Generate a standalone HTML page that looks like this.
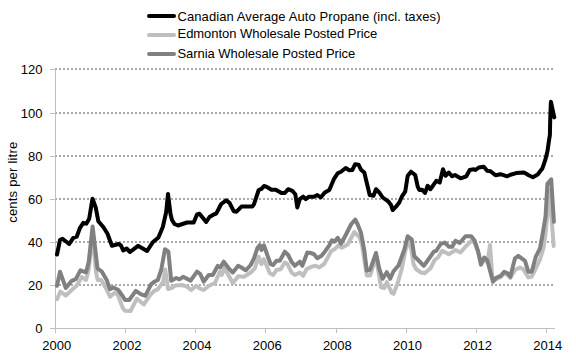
<!DOCTYPE html>
<html><head><meta charset="utf-8"><style>html,body{margin:0;padding:0;background:#fff;width:576px;height:361px;overflow:hidden}svg{display:block}</style></head><body>
<svg width="576" height="361" viewBox="0 0 576 361">
<rect width="576" height="361" fill="#fff"/>
<line x1="55" y1="69" x2="553" y2="69" stroke="#a9a9a9" stroke-width="2" stroke-dasharray="2 2" shape-rendering="crispEdges"/>
<line x1="55" y1="113" x2="553" y2="113" stroke="#a9a9a9" stroke-width="2" stroke-dasharray="2 2" shape-rendering="crispEdges"/>
<line x1="55" y1="156" x2="553" y2="156" stroke="#a9a9a9" stroke-width="2" stroke-dasharray="2 2" shape-rendering="crispEdges"/>
<line x1="55" y1="199" x2="553" y2="199" stroke="#a9a9a9" stroke-width="2" stroke-dasharray="2 2" shape-rendering="crispEdges"/>
<line x1="55" y1="242" x2="553" y2="242" stroke="#a9a9a9" stroke-width="2" stroke-dasharray="2 2" shape-rendering="crispEdges"/>
<line x1="55" y1="285" x2="553" y2="285" stroke="#a9a9a9" stroke-width="2" stroke-dasharray="2 2" shape-rendering="crispEdges"/>
<line x1="55.5" y1="69" x2="55.5" y2="333" stroke="#bfbfbf" stroke-width="1" shape-rendering="crispEdges"/>
<line x1="50" y1="328.5" x2="555" y2="328.5" stroke="#bfbfbf" stroke-width="1" shape-rendering="crispEdges"/>
<line x1="50" y1="69.5" x2="55" y2="69.5" stroke="#bfbfbf" stroke-width="1" shape-rendering="crispEdges"/>
<line x1="50" y1="113.5" x2="55" y2="113.5" stroke="#bfbfbf" stroke-width="1" shape-rendering="crispEdges"/>
<line x1="50" y1="156.5" x2="55" y2="156.5" stroke="#bfbfbf" stroke-width="1" shape-rendering="crispEdges"/>
<line x1="50" y1="199.5" x2="55" y2="199.5" stroke="#bfbfbf" stroke-width="1" shape-rendering="crispEdges"/>
<line x1="50" y1="242.5" x2="55" y2="242.5" stroke="#bfbfbf" stroke-width="1" shape-rendering="crispEdges"/>
<line x1="50" y1="285.5" x2="55" y2="285.5" stroke="#bfbfbf" stroke-width="1" shape-rendering="crispEdges"/>
<line x1="55.5" y1="328" x2="55.5" y2="333" stroke="#bfbfbf" stroke-width="1" shape-rendering="crispEdges"/>
<line x1="125.5" y1="328" x2="125.5" y2="333" stroke="#bfbfbf" stroke-width="1" shape-rendering="crispEdges"/>
<line x1="195.5" y1="328" x2="195.5" y2="333" stroke="#bfbfbf" stroke-width="1" shape-rendering="crispEdges"/>
<line x1="265.5" y1="328" x2="265.5" y2="333" stroke="#bfbfbf" stroke-width="1" shape-rendering="crispEdges"/>
<line x1="336.5" y1="328" x2="336.5" y2="333" stroke="#bfbfbf" stroke-width="1" shape-rendering="crispEdges"/>
<line x1="406.5" y1="328" x2="406.5" y2="333" stroke="#bfbfbf" stroke-width="1" shape-rendering="crispEdges"/>
<line x1="476.5" y1="328" x2="476.5" y2="333" stroke="#bfbfbf" stroke-width="1" shape-rendering="crispEdges"/>
<line x1="546.5" y1="328" x2="546.5" y2="333" stroke="#bfbfbf" stroke-width="1" shape-rendering="crispEdges"/>
<text x="42.5" y="333.0" text-anchor="end" font-family="Liberation Sans, sans-serif" font-size="13" fill="#000">0</text>
<text x="42.5" y="289.5" text-anchor="end" font-family="Liberation Sans, sans-serif" font-size="13" fill="#000">20</text>
<text x="42.5" y="246.5" text-anchor="end" font-family="Liberation Sans, sans-serif" font-size="13" fill="#000">40</text>
<text x="42.5" y="203.5" text-anchor="end" font-family="Liberation Sans, sans-serif" font-size="13" fill="#000">60</text>
<text x="42.5" y="160.5" text-anchor="end" font-family="Liberation Sans, sans-serif" font-size="13" fill="#000">80</text>
<text x="42.5" y="117.5" text-anchor="end" font-family="Liberation Sans, sans-serif" font-size="13" fill="#000">100</text>
<text x="42.5" y="73.5" text-anchor="end" font-family="Liberation Sans, sans-serif" font-size="13" fill="#000">120</text>
<text x="56.8" y="349.8" text-anchor="middle" font-family="Liberation Sans, sans-serif" font-size="13" fill="#000">2000</text>
<text x="126.9840046929996" y="349.8" text-anchor="middle" font-family="Liberation Sans, sans-serif" font-size="13" fill="#000">2002</text>
<text x="197.0719984356668" y="349.8" text-anchor="middle" font-family="Liberation Sans, sans-serif" font-size="13" fill="#000">2004</text>
<text x="267.2560031286664" y="349.8" text-anchor="middle" font-family="Liberation Sans, sans-serif" font-size="13" fill="#000">2006</text>
<text x="337.3439968713336" y="349.8" text-anchor="middle" font-family="Liberation Sans, sans-serif" font-size="13" fill="#000">2008</text>
<text x="407.52800156433324" y="349.8" text-anchor="middle" font-family="Liberation Sans, sans-serif" font-size="13" fill="#000">2010</text>
<text x="477.6159953070004" y="349.8" text-anchor="middle" font-family="Liberation Sans, sans-serif" font-size="13" fill="#000">2012</text>
<text x="547.8" y="349.8" text-anchor="middle" font-family="Liberation Sans, sans-serif" font-size="13" fill="#000">2014</text>
<text transform="translate(17.4,182.3) rotate(-90)" text-anchor="middle" textLength="81" lengthAdjust="spacing" font-family="Liberation Sans, sans-serif" font-size="13" fill="#000">cents per litre</text>
<polyline points="57,299.2 60.3,291.7 65.8,295.5 72.8,289 76.2,286.2 81.8,277.2 86,280 88.7,270 92.5,234 96,272 97.7,280 101.2,280 105.3,287 110,296.7 114.2,293 117.5,294.2 122.8,308 125,310.8 130.5,311 136.9,298.7 143.9,304.4 150.3,294.9 154.1,291 157.9,289.1 163,282 165.3,269.5 168,289 171.5,288 175.3,285.5 182,285 187,286.7 191.2,290 196.2,285.8 199.5,288.3 203.7,290 208.7,286 214.9,283 219.9,271.8 221.7,275 224.2,268.1 228.7,275.5 232.8,283.3 238.2,276.3 244,276.7 250.7,272.5 254.8,268.3 258.7,256.7 261.5,264.2 264,259.2 269.8,273.3 273.2,275 276.5,270 280.7,269.2 284.8,262.5 287.3,263.7 291.5,272.5 294.8,275 299.8,272.5 303.2,275.8 306.5,269.2 311.5,266.7 315.7,265.8 319,267.5 324,264.2 329.3,254.7 331,251.2 335.2,248.7 338.5,245.3 341.8,247.8 347.7,244.5 354.3,232 359.3,237 362,245 366.8,275.5 370.2,275.5 376,257 381,287.2 384.3,288 386.8,282.2 391.8,293 393.5,293.8 397.7,283 401.5,270 404.5,255 407.5,240 411.5,250 413.5,264 416,269 421,272.5 424.7,273.3 430.5,268.3 434.7,260 438,257.5 442.2,250.8 448.8,254.2 455.5,250 460.5,252.5 466.3,245.8 471.3,240.8 474.7,243 478,252 481,265 484.2,260 487.5,262 490,245 492.3,277 496.7,279 500.8,277 504.2,273.5 507.5,275 510.3,278 515,270 520,267.5 523.3,269.2 528.3,277.5 531.7,276.5 536,268 540,259.5 543.4,248.3 545.8,232 549.5,190.5 553.7,246" fill="none" stroke="#bfbfbf" stroke-width="4" stroke-linejoin="round" stroke-linecap="round"/>
<polyline points="57,285.8 60,271.7 65.8,288 71.7,280.8 75.8,279.2 80.4,270.3 86,272.4 88.7,262 92.6,226.5 97.5,268.5 101.9,271.7 106.7,280 110,289.2 113.3,287.5 118.3,290 122.5,295.8 125,300 129.2,300 135.8,290.8 140.8,294.2 145.3,295.8 151.2,284.2 154.5,281.7 157.8,280 161.2,270 165,249.2 168.4,251.7 171.2,280.8 176.2,278 179.4,279.3 183.1,276.8 190.6,280.6 197,271.7 200.3,274.2 203.7,281.7 208.7,275 212.8,275 217.8,265.8 220.3,267.5 223.7,261.7 228.7,268.3 232.8,272.5 238.2,265.8 241.5,267.5 245.7,270.3 250.7,265 254,258.3 257.3,248.3 259.8,245 261.5,250 264,245.3 267.3,255 270.7,264.2 273.2,265 276.5,260.8 279.8,260.8 284.8,251.7 288.2,255 291.5,261.7 294.8,265.8 299.8,261.7 302.3,265.8 307.3,252.5 310.7,253 314,254.2 317.3,258.3 321.5,255.8 324.8,251.7 329.3,245.3 331.8,240.3 334.3,241.7 337.7,237.8 341,243.7 346,234.5 351,224.5 355.2,219.5 357.7,224.5 361,232.8 364.3,250.3 366.8,270.5 370.2,269.7 376,253 379.3,268.8 382.7,278.8 386.8,272.2 390.2,278.8 393.5,271.3 398.5,265.5 404.3,249.7 407.7,236.2 411.8,239.5 414.3,256.2 417.7,259.5 423.8,265.8 428,260 433.8,251.7 436.3,250.8 440.5,244.2 444.7,242.5 448.8,246.7 452.2,246.7 455.5,240.8 459.7,243 465.5,236.3 471.3,236.3 474.7,240.8 478,250.8 481,264.2 484.2,257.5 487.2,260 493,281.7 496.7,277.5 500.8,275.8 504.2,271.7 507.5,273.3 510.3,276.7 515,258.3 518.3,255.8 525,260.8 528.3,271.7 531.7,271.7 535.8,256.7 540,248.3 542.5,234.9 545.6,216.2 547.4,183.7 551.2,179.3 553.9,221.8" fill="none" stroke="#808080" stroke-width="4" stroke-linejoin="round" stroke-linecap="round"/>
<polyline points="57.0,254.5 60.0,240 62.5,238.7 69.2,244 73.3,237.8 76.7,236.7 80,227.8 83.3,222.8 86.3,223.7 89.2,218.7 92.5,198.7 95.8,207.8 98.3,221.2 103.3,227 107.5,233.7 111.9,245.8 118.7,244 121,245.5 123.2,250.5 126.6,248.5 130,252 138,245.8 147.1,251 152.8,242.2 158.4,237.5 162.8,227 166.2,212 168,194 170.5,214 172,220 174.5,224 178,225.5 187,222.5 193.7,222.5 197,214.5 199.5,213.7 206.2,222 209.5,217 213.7,214.5 216.2,213.7 221.2,204 226.2,200.3 229.5,202.8 233.7,211.2 236.5,211.7 239,209.2 241.5,206.5 252.3,206.5 254,204.2 258.7,190 261.5,188.8 264,186 267.3,187.2 271.5,189.7 275.7,189.7 281.5,193 284.8,193 288.2,189.2 292.3,190.8 295.3,194.2 297.3,207.5 299.8,199.2 303.2,196.7 305.7,199.2 309,196.7 314,196.7 317.3,195 320.7,197.5 324.8,192.5 329.3,190 334.3,178.3 337.7,173.3 341,171.7 345.7,168 349.3,170.3 352.3,170 355.2,164.2 358.5,164.7 361,169.7 364.3,172.5 369.7,195 373.5,195.8 376,189.2 379.3,192.5 382.7,197.5 388.5,201.7 391,205 392.7,210 396,206.7 399.3,202.5 401.8,196.7 405.2,191.7 407.7,175.8 411,171.7 415.2,175 417.7,186.7 419.3,190 422.2,189.7 425,193 427.7,185.8 430.5,189.2 436.3,180.8 439.7,182.5 443,169.2 445.5,175.8 448.8,172.5 452.2,176.3 455,175 460.5,178.3 466.3,176.3 469.7,170 473.8,169.2 475.5,170 478.8,167.5 483.8,166.7 487.2,170.8 490.5,171.3 495.5,175.3 500.5,174.2 507.2,176.3 510.5,174.7 516.2,173.1 523.9,172.4 528.7,175.3 532.9,177.2 537.7,174.5 542.5,168.2 545.3,159.9 547.4,151.6 548.8,141.9 549.9,135 550.2,120 550.9,101.8 554.3,117.4" fill="none" stroke="#000" stroke-width="4" stroke-linejoin="round" stroke-linecap="round"/>
<line x1="149" y1="16" x2="174" y2="16" stroke="#000" stroke-width="4" stroke-linecap="round"/>
<text x="177.5" y="20.5" textLength="263" lengthAdjust="spacing" font-family="Liberation Sans, sans-serif" font-size="13" fill="#000">Canadian Average Auto Propane (incl. taxes)</text>
<line x1="149" y1="35" x2="174" y2="35" stroke="#bfbfbf" stroke-width="4" stroke-linecap="round"/>
<text x="177.5" y="38.4" textLength="199.8" lengthAdjust="spacing" font-family="Liberation Sans, sans-serif" font-size="13" fill="#000">Edmonton Wholesale Posted Price</text>
<line x1="149" y1="54" x2="174" y2="54" stroke="#808080" stroke-width="4" stroke-linecap="round"/>
<text x="177.5" y="57.7" textLength="177.8" lengthAdjust="spacing" font-family="Liberation Sans, sans-serif" font-size="13" fill="#000">Sarnia Wholesale Posted Price</text>
</svg>
</body></html>
